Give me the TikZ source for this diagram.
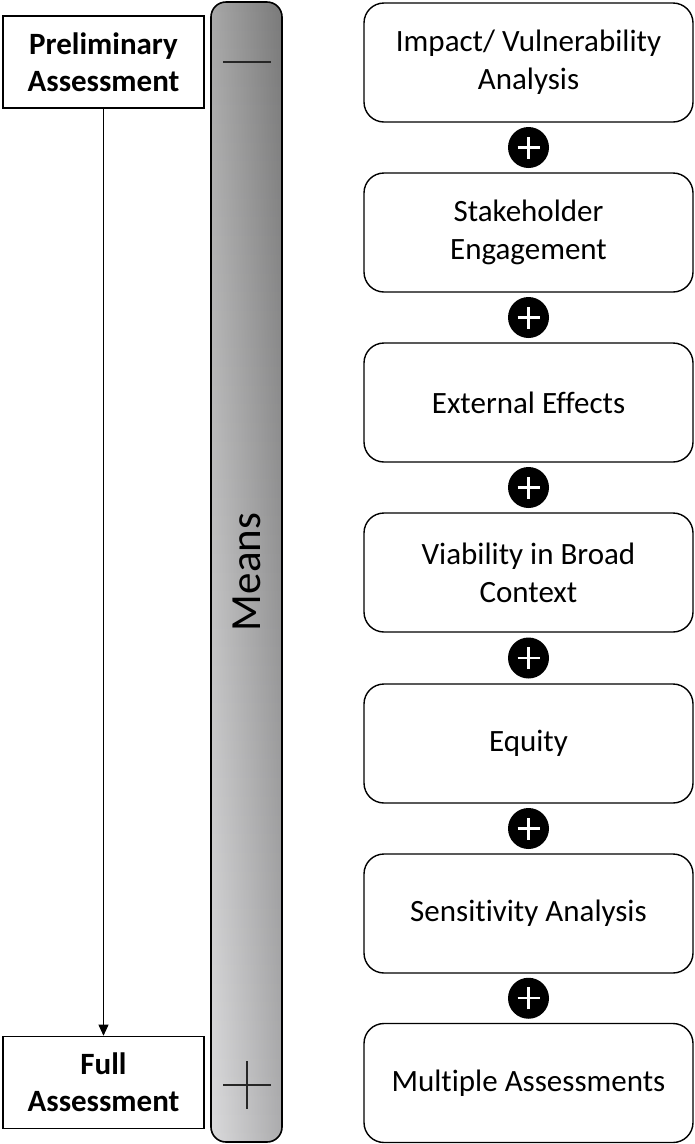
\documentclass[tikz,border=0pt]{standalone}
\usepackage{fontspec}
\setmainfont{Carlito}[Ligatures=CommonOff]
\usetikzlibrary{arrows.meta,calc}
\definecolor{barTop}{HTML}{959595}
\definecolor{barBottom}{HTML}{D2D2D4}
\begin{document}
\begin{tikzpicture}[x=1pt,y=-1pt,
  stage/.style={draw=black,line width=1.6pt,fill=white,minimum width=201pt,minimum height=92pt,
    align=center,font=\fontsize{31}{37}\selectfont\bfseries,inner sep=0pt},
  item/.style={draw=black,line width=1.4pt,rounded corners=20pt,fill=white,minimum width=329pt,
    minimum height=119pt,align=center,font=\fontsize{31}{38}\selectfont,inner sep=0pt},
  plusdot/.style={circle,fill=black,minimum size=41pt,inner sep=0pt},
  mark line/.style={line width=1.3pt,black!85}]
\useasboundingbox (0,0) rectangle (695,1144);

% left column: direction of assessment
\node[stage] (pre) at (103.5,62) {Preliminary\\Assessment};
\node[stage] (full) at (103.5,1082.5) {Full\\Assessment};
\draw[line width=0.8pt,-{Triangle[length=11pt,width=10pt]}] (pre.south) -- (full.north);

% shaded "Means" bar: dark at the top, light at the bottom, darker on the right
\shade[top color=barTop,bottom color=barBottom,rounded corners=15pt] (211,2) rectangle (282,1142);
\shade[left color=white,right color=black,opacity=0.18,rounded corners=15pt] (211,2) rectangle (282,1142);
\node[draw=black,line width=1.6pt,rounded corners=15pt,minimum width=71pt,minimum height=1140pt,inner sep=0pt] (bar) at (246.5,572) {};
\node[rotate=90,font=\fontsize{43}{48}\selectfont] (means) at (bar.center) {Means};
\coordinate (mL) at (223,62);
\coordinate (mR) at (271,62);
\draw[mark line] (mL) -- (mR);
\coordinate (pL) at (223,1085);
\coordinate (pR) at (271,1085);
\coordinate (pT) at (247,1061);
\coordinate (pB) at (247,1109);
\draw[mark line] (pL) -- (pR);
\draw[mark line] (pT) -- (pB);

% right column: components
\node[item] (b1) at (528.5,62.5) {Impact/ Vulnerability\\Analysis};
\node[item] (b2) at (528.5,232.5) {Stakeholder\\Engagement};
\node[item] (b3) at (528.5,402.5) {External Effects};
\node[item] (b4) at (528.5,572.5) {Viability in Broad\\Context};
\node[item] (b5) at (528.5,743.5) {Equity};
\node[item] (b6) at (528.5,913.5) {Sensitivity Analysis};
\node[item] (b7) at (528.5,1083) {Multiple Assessments};

\foreach \a/\b in {b1/b2,b2/b3,b3/b4,b4/b5,b5/b6,b6/b7}{
  \node[plusdot] (j\a) at ($(\a.south)!0.5!(\b.north)$) {};
  \draw[white,line width=2.4pt] ([xshift=-11pt]j\a.center) -- ([xshift=11pt]j\a.center);
  \draw[white,line width=2.4pt] ([yshift=-11pt]j\a.center) -- ([yshift=11pt]j\a.center);
}
\end{tikzpicture}
\end{document}
